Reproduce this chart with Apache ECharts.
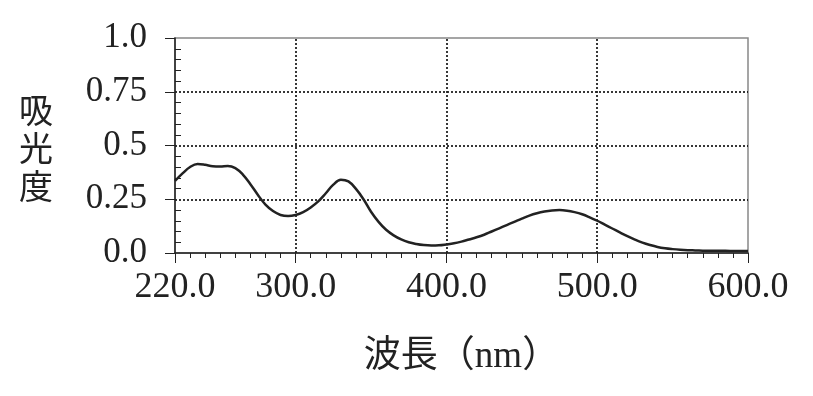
<!DOCTYPE html>
<html>
<head>
<meta charset="utf-8">
<script src="https://cdn.jsdelivr.net/npm/echarts@6/dist/echarts.min.js"></script>
<style>
  html, body { margin: 0; padding: 0; background: #fff; }
  #chart { width: 813px; height: 396px; }
</style>
</head>
<body>
<div id="chart"></div>
<script>
// 波長 (nm)：220〜600 を 5nm 刻み
const wavelengths = [];
for (let w = 220; w <= 600; w += 5) wavelengths.push(w);

// 吸光度
const absorbance = [
    0.335, 0.37, 0.40, 0.414, 0.41, 0.403, 0.402, 0.405, 0.395, 0.365,
    0.32, 0.27, 0.225, 0.195, 0.177, 0.172, 0.177, 0.19, 0.212, 0.24,
    0.278, 0.318, 0.341, 0.333, 0.298, 0.25, 0.192, 0.145, 0.108, 0.082,
    0.063, 0.05, 0.042, 0.037, 0.035, 0.036, 0.04, 0.045, 0.053, 0.063,
    0.073, 0.085, 0.1, 0.115, 0.13, 0.145, 0.16, 0.174, 0.185, 0.193,
    0.198, 0.2, 0.197, 0.19, 0.18, 0.166, 0.15, 0.132, 0.114, 0.096,
    0.078, 0.062, 0.048, 0.037, 0.028, 0.022, 0.018, 0.015, 0.013, 0.012,
    0.011, 0.0105, 0.01, 0.01, 0.0095, 0.009, 0.009
];

const xTicks = [220, 300, 400, 500, 600];
const xGrid = [300, 400, 500];
const yGrid = [0.25, 0.5, 0.75];

const ink = '#222';
const font = '"Liberation Serif", "Noto Sans CJK JP", serif';

const chart = echarts.init(document.getElementById('chart'));

const gridLines = [];
xGrid.forEach(v => gridLines.push({ xAxis: v }));
yGrid.forEach(v => gridLines.push({ yAxis: v }));

chart.setOption({
    animation: false,
    grid: {
        left: 175, right: 65, top: 38, bottom: 143,
        show: true, borderColor: '#888', borderWidth: 1.5
    },
    xAxis: [
        {
            type: 'value', min: 220, max: 600, interval: 10,
            axisLine: { lineStyle: { color: ink, width: 1.5 } },
            axisTick: { length: 5, lineStyle: { color: ink, width: 1 } },
            axisLabel: { show: false },
            splitLine: { show: false }
        },
        {
            type: 'value', min: 220, max: 600, position: 'bottom',
            axisLine: { show: false },
            axisTick: { customValues: xTicks, length: 10, lineStyle: { color: ink, width: 1 } },
            axisLabel: {
                customValues: xTicks, margin: 17,
                color: ink, fontSize: 36, fontFamily: font,
                formatter: v => v.toFixed(1)
            },
            splitLine: { show: false },
            name: '波長（nm）', nameLocation: 'middle', nameGap: 86,
            nameTextStyle: { color: ink, fontSize: 37, fontFamily: font }
        }
    ],
    yAxis: [
        {
            type: 'value', min: 0, max: 1, interval: 0.25,
            axisLine: { show: true, lineStyle: { color: ink, width: 1.5 } },
            axisTick: { show: true, length: 10, lineStyle: { color: ink, width: 1 } },
            axisLabel: {
                margin: 28, color: ink, fontSize: 35, fontFamily: font,
                formatter: v => (v === 0 || v === 1) ? v.toFixed(1) : String(v)
            },
            splitLine: { show: false }
        },
        {
            type: 'value', min: 0, max: 1, interval: 0.25, position: 'left',
            axisLine: { show: false },
            axisTick: { show: false, inside: true },
            axisLabel: { show: false },
            minorTick: { show: true, splitNumber: 5, length: 6, lineStyle: { color: ink, width: 1 } },
            splitLine: { show: false }
        }
    ],
    graphic: [{
        type: 'text', x: 36, y: 148,
        style: {
            text: '吸\n光\n度', fill: ink, font: '34px "Noto Sans CJK JP"',
            lineHeight: 38, align: 'center', verticalAlign: 'middle'
        }
    }],
    series: [{
        type: 'line',
        xAxisIndex: 0, yAxisIndex: 0,
        data: wavelengths.map((w, i) => [w, absorbance[i]]),
        smooth: 0.4, showSymbol: false,
        lineStyle: { color: ink, width: 2.5 },
        markLine: {
            silent: true, symbol: 'none', label: { show: false },
            lineStyle: { color: '#222', type: [2, 2], width: 1.8 },
            data: gridLines
        },
        z: 3
    }]
});
</script>
</body>
</html>
